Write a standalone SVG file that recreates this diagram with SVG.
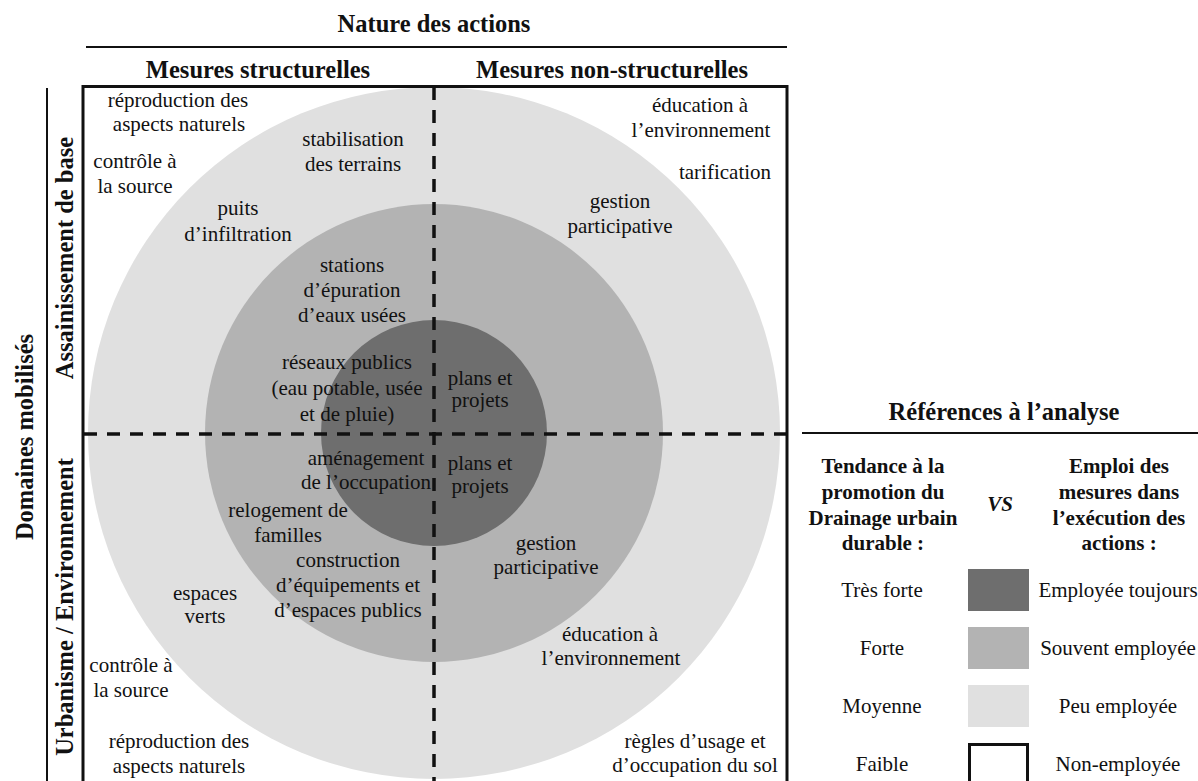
<svg xmlns="http://www.w3.org/2000/svg" width="1198" height="781" viewBox="0 0 1198 781">
<style>
.t{font-family:"Liberation Serif","Times New Roman",serif;font-size:21px;fill:#111;text-anchor:middle}
.b{font-family:"Liberation Serif","Times New Roman",serif;font-size:21px;font-weight:bold;fill:#111;text-anchor:middle}
.h{font-family:"Liberation Serif","Times New Roman",serif;font-size:24.5px;font-weight:bold;fill:#111;text-anchor:middle}
.ln{stroke:#111;stroke-width:2;fill:none}
.dash{stroke:#111;stroke-width:3.5;stroke-dasharray:13 10;fill:none}
</style>
<rect width="1198" height="781" fill="#fff"/>
<g id="rings">
<circle cx="434" cy="433" r="346" fill="#e0e0e0"/>
<circle cx="434" cy="433" r="229" fill="#b3b3b3"/>
<circle cx="434" cy="433" r="113" fill="#6e6e6e"/>
</g>
<g id="frame">
<rect x="83" y="86.5" width="704" height="696" fill="none" stroke="#111" stroke-width="3"/>
<line class="ln" x1="86" y1="47" x2="787" y2="47"/>
<line class="ln" x1="47" y1="88" x2="47" y2="781"/>
</g>
<g id="connectors">
<line class="dash" x1="434" y1="87" x2="434" y2="781"/>
<line class="dash" x1="84" y1="434" x2="786" y2="434"/>
</g>
<g id="headers">
<text class="h" x="434" y="32">Nature des actions</text>
<text class="h" x="258" y="78">Mesures structurelles</text>
<text class="h" x="612" y="78">Mesures non-structurelles</text>
<text class="h" transform="translate(33 437) rotate(-90)">Domaines mobilisés</text>
<text class="h" transform="translate(73 258) rotate(-90)">Assainissement de base</text>
<text class="h" transform="translate(73 607) rotate(-90)">Urbanisme / Environnement</text>
</g>
<g id="n-top-left">
<text class="t" x="178" y="107">réproduction des</text>
<text class="t" x="179" y="131">aspects naturels</text>
<text class="t" x="135" y="168">contrôle à</text>
<text class="t" x="135" y="193">la source</text>
<text class="t" x="353" y="146">stabilisation</text>
<text class="t" x="353" y="171">des terrains</text>
<text class="t" x="238" y="215">puits</text>
<text class="t" x="238" y="241">d’infiltration</text>
<text class="t" x="352" y="272">stations</text>
<text class="t" x="352" y="297">d’épuration</text>
<text class="t" x="352" y="322">d’eaux usées</text>
<text class="t" x="347" y="369">réseaux publics</text>
<text class="t" x="347" y="395">(eau potable, usée</text>
<text class="t" x="347" y="421">et de pluie)</text>
</g>
<g id="n-top-right">
<text class="t" x="700" y="112">éducation à</text>
<text class="t" x="701" y="137">l’environnement</text>
<text class="t" x="725" y="179">tarification</text>
<text class="t" x="620" y="208">gestion</text>
<text class="t" x="620" y="233">participative</text>
<text class="t" x="480" y="385">plans et</text>
<text class="t" x="480" y="407">projets</text>
</g>
<g id="n-bottom-left">
<text class="t" x="366" y="465">aménagement</text>
<text class="t" x="366" y="489">de l’occupation</text>
<text class="t" x="288" y="517">relogement de</text>
<text class="t" x="288" y="542">familles</text>
<text class="t" x="348" y="567">construction</text>
<text class="t" x="348" y="592">d’équipements et</text>
<text class="t" x="348" y="617">d’espaces publics</text>
<text class="t" x="205" y="600">espaces</text>
<text class="t" x="205" y="623">verts</text>
<text class="t" x="131" y="672">contrôle à</text>
<text class="t" x="131" y="697">la source</text>
<text class="t" x="179" y="748">réproduction des</text>
<text class="t" x="179" y="773">aspects naturels</text>
</g>
<g id="n-bottom-right">
<text class="t" x="480" y="470">plans et</text>
<text class="t" x="480" y="493">projets</text>
<text class="t" x="546" y="550">gestion</text>
<text class="t" x="546" y="574">participative</text>
<text class="t" x="610" y="641">éducation à</text>
<text class="t" x="611" y="665">l’environnement</text>
<text class="t" x="695" y="748">règles d’usage et</text>
<text class="t" x="695" y="772">d’occupation du sol</text>
</g>
<g id="legend">
<text class="h" x="1004" y="420">Références à l’analyse</text>
<line class="ln" x1="802" y1="433" x2="1198" y2="433"/>
<text class="b" x="883" y="473">Tendance à la</text>
<text class="b" x="883" y="499">promotion du</text>
<text class="b" x="883" y="525">Drainage urbain</text>
<text class="b" x="883" y="550">durable :</text>
<text class="b" x="1000" y="511" font-style="italic">VS</text>
<text class="b" x="1119" y="473">Emploi des</text>
<text class="b" x="1119" y="499">mesures dans</text>
<text class="b" x="1119" y="525">l’exécution des</text>
<text class="b" x="1119" y="550">actions :</text>
<text class="t" x="882" y="597">Très forte</text>
<rect x="968" y="569" width="61" height="42" fill="#6e6e6e"/>
<text class="t" x="1118" y="597">Employée toujours</text>
<text class="t" x="882" y="655">Forte</text>
<rect x="968" y="627" width="61" height="42" fill="#b3b3b3"/>
<text class="t" x="1118" y="655">Souvent employée</text>
<text class="t" x="882" y="713">Moyenne</text>
<rect x="968" y="685" width="61" height="42" fill="#e0e0e0"/>
<text class="t" x="1118" y="713">Peu employée</text>
<text class="t" x="882" y="771">Faible</text>
<rect x="969.5" y="744.5" width="58" height="42" fill="#fff" stroke="#111" stroke-width="3"/>
<text class="t" x="1118" y="771">Non-employée</text>
</g>
</svg>
